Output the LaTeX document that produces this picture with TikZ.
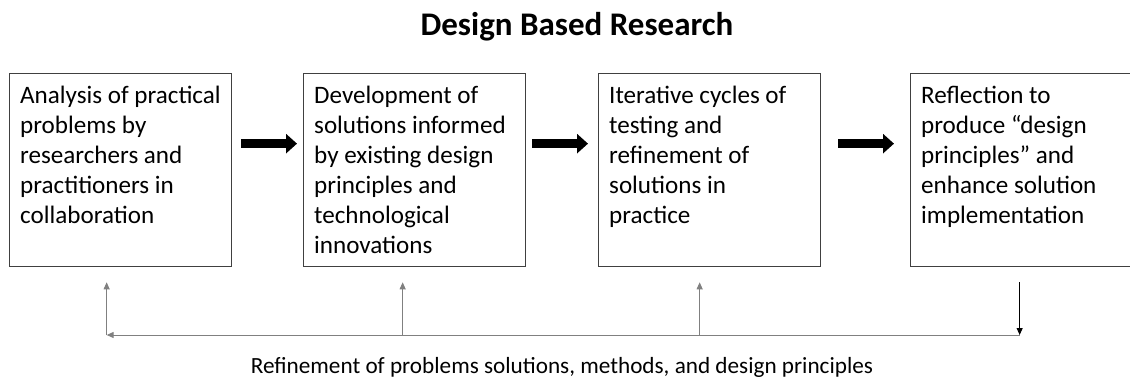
\documentclass[tikz,border=0pt]{standalone}
\usepackage{fontspec}
\setmainfont{Carlito}
\usetikzlibrary{arrows.meta}
\usetikzlibrary{calc}

\tikzset{
	stage/.style={draw=black!75, line width=1.3pt, anchor=north west, minimum width=222pt, minimum height=193pt},
	stagetext/.style={anchor=north west, inner sep=0pt, align=left, font=\fontsize{25.1}{30}\selectfont},
	bigarrow/.style={line width=8.5pt, -{Triangle[width=19pt,length=11pt]}},
	back/.style={draw=black!50, line width=1pt, -{Triangle[width=6pt,length=7pt]}}
}

\begin{document}
\begin{tikzpicture}[x=1pt,y=1pt]
	\useasboundingbox (0,0) rectangle (1130,-381);
	\node [font=\bfseries\fontsize{33}{38}\selectfont] (title) at (577,-27) {Design Based Research};
	% the four stages
	\node [stage] (b1) at (9,-73) {};
	\node [stage] (b2) at (303,-73) {};
	\node [stage] (b3) at (598,-73) {};
	\node [stage] (b4) at (910,-73) {};
	\node [stagetext] (t1) at ([shift={(11,-13)}]b1.north west) {Analysis of practical\\ problems by\\ researchers and\\ practitioners in\\ collaboration};
	\node [stagetext] (t2) at ([shift={(11,-13)}]b2.north west) {Development of\\ solutions informed\\ by existing design\\ principles and\\ technological\\ innovations};
	\node [stagetext] (t3) at ([shift={(11,-13)}]b3.north west) {Iterative cycles of\\ testing and\\ refinement of\\ solutions in\\ practice};
	\node [stagetext] (t4) at ([shift={(11,-13)}]b4.north west) {Reflection to\\ produce “design\\ principles” and\\ enhance solution\\ implementation};
	\draw [bigarrow] ([shift={(9,26.5)}]b1.east) -- ([shift={(-6,26.5)}]b2.west);
	\draw [bigarrow] ([shift={(6,26.5)}]b2.east) -- ([shift={(-10,26.5)}]b3.west);
	\draw [bigarrow] ([shift={(17,26.5)}]b3.east) -- ([shift={(-16,26.5)}]b4.west);
	% feedback loop
	\coordinate (up1) at ($(b1.south)+(-14,-15)$);
	\coordinate (up2) at ($(b2.south)+(-12,-15)$);
	\coordinate (up3) at ($(b3.south)+(-10,-15)$);
	\coordinate (dn4) at ($(b4.south)+(-2,-15)$);
	\coordinate (base) at (0,-335);
	\draw [back] (dn4 |- base) -- (up1 |- base);
	\draw [back] (up1 |- base) -- (up1);
	\draw [back] (up2 |- base) -- (up2);
	\draw [back] (up3 |- base) -- (up3);
	\draw [back, draw=black] (dn4) -- (dn4 |- base);
	\node [font=\fontsize{23.2}{28}\selectfont, anchor=base] (loop) at (562,-373) {Refinement of problems solutions, methods, and design principles};
\end{tikzpicture}
\end{document}
